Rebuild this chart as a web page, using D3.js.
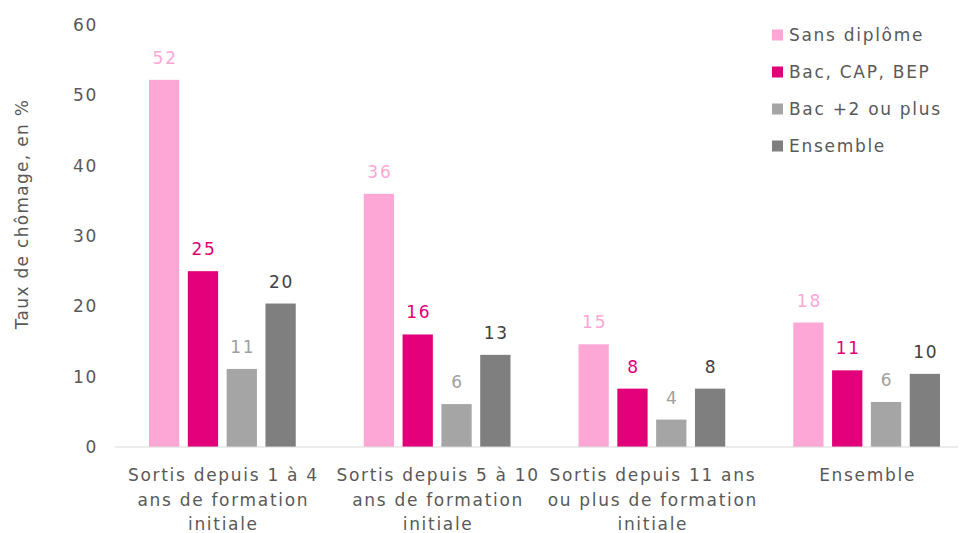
<!DOCTYPE html>
<html>
<head>
<meta charset="utf-8">
<script src="https://cdn.jsdelivr.net/npm/d3@7"></script>
<style>
  body { margin: 0; background: #fff; }
  svg text { font-family: "DejaVu Sans", sans-serif; letter-spacing: 1.7px; }
</style>
</head>
<body>
<div id="chart"></div>
<script>
var categories = [
  ["Sortis depuis 1 à 4", "ans de formation", "initiale"],
  ["Sortis depuis 5 à 10", "ans de formation", "initiale"],
  ["Sortis depuis 11 ans", "ou plus de formation", "initiale"],
  ["Ensemble"]
];
var seriesNames = ["Sans diplôme", "Bac, CAP, BEP", "Bac +2 ou plus", "Ensemble"];
var sansDiplome = [52.2, 36.0, 14.6, 17.7];
var bacCapBep = [25.0, 16.0, 8.3, 10.9];
var bacPlus2 = [11.1, 6.1, 3.9, 6.4];
var ensemble = [20.4, 13.1, 8.3, 10.4];
var yTicks = [0, 10, 20, 30, 40, 50, 60];

var seriesValues = [sansDiplome, bacCapBep, bacPlus2, ensemble];
var barColors = ["#FDA7D6", "#E2007A", "#A5A5A5", "#7F7F7F"];
var labelColors = ["#FDA7D6", "#E2007A", "#A0A0A0", "#404040"];
var fontSize = "17px";

var W = 962, H = 533;
var svg = d3.select("#chart").append("svg")
  .attr("width", W)
  .attr("height", H);

var x0 = d3.scaleBand()
  .domain(d3.range(categories.length))
  .range([115, 974])
  .padding(0);

var x1 = d3.scaleBand()
  .domain(d3.range(seriesNames.length))
  .range([34, x0.bandwidth() - 34])
  .paddingInner(0.22)
  .paddingOuter(0);

var y = d3.scaleLinear()
  .domain([0, 60])
  .range([447, 25]);

// y axis, labels only
var yAxis = d3.axisLeft(y)
  .tickValues(yTicks)
  .tickSize(0)
  .tickPadding(0);

svg.append("g")
  .attr("transform", "translate(98,0)")
  .call(yAxis)
  .call(function(g) { g.select(".domain").remove(); })
  .selectAll("text")
  .style("font-size", fontSize)
  .attr("fill", "#595959");

// y title
svg.append("text")
  .attr("transform", "translate(28,214) rotate(-90)")
  .attr("text-anchor", "middle")
  .style("font-size", fontSize)
  .style("letter-spacing", "1.3px")
  .attr("fill", "#595959")
  .text("Taux de chômage, en %");

// bars
var groups = svg.selectAll(".grp")
  .data(categories)
  .enter()
  .append("g")
  .attr("class", "grp")
  .attr("transform", function(d, i) { return "translate(" + x0(i) + ",0)"; });

groups.each(function(cat, ci) {
  var g = d3.select(this);
  var vals = seriesValues.map(function(s, si) { return { s: si, v: s[ci] }; });

  g.selectAll("rect")
    .data(vals)
    .enter()
    .append("rect")
    .attr("x", function(d) { return x1(d.s); })
    .attr("width", x1.bandwidth())
    .attr("y", function(d) { return y(d.v); })
    .attr("height", function(d) { return y(0) - y(d.v); })
    .attr("fill", function(d) { return barColors[d.s]; });

  g.selectAll("text.val")
    .data(vals)
    .enter()
    .append("text")
    .attr("class", "val")
    .attr("x", function(d) { return x1(d.s) + x1.bandwidth() / 2 + 1; })
    .attr("y", function(d) { return y(d.v) - 16; })
    .attr("text-anchor", "middle")
    .style("font-size", fontSize)
    .attr("fill", function(d) { return labelColors[d.s]; })
    .text(function(d) { return Math.round(d.v); });
});

// x axis baseline
svg.append("line")
  .attr("x1", 115)
  .attr("x2", 958)
  .attr("y1", y(0))
  .attr("y2", y(0))
  .attr("stroke", "#D9D9D9")
  .attr("stroke-width", 1);

// category labels
svg.selectAll(".cat")
  .data(categories)
  .enter()
  .append("text")
  .attr("class", "cat")
  .attr("text-anchor", "middle")
  .style("font-size", fontSize)
  .attr("fill", "#595959")
  .each(function(lines, i) {
    var t = d3.select(this);
    lines.forEach(function(line, li) {
      t.append("tspan")
        .attr("x", x0(i) + x0.bandwidth() / 2 + 1)
        .attr("y", 481 + li * 24.5)
        .text(line);
    });
  });

// legend
var legend = svg.selectAll(".leg")
  .data(seriesNames)
  .enter()
  .append("g")
  .attr("class", "leg")
  .attr("transform", function(d, i) { return "translate(772," + (35 + i * 37) + ")"; });

legend.append("rect")
  .attr("x", 0)
  .attr("y", -5.5)
  .attr("width", 11)
  .attr("height", 11)
  .attr("fill", function(d, i) { return barColors[i]; });

legend.append("text")
  .attr("x", 17)
  .attr("y", 6)
  .style("font-size", fontSize)
  .attr("fill", "#595959")
  .text(function(d) { return d; });
</script>
</body>
</html>
